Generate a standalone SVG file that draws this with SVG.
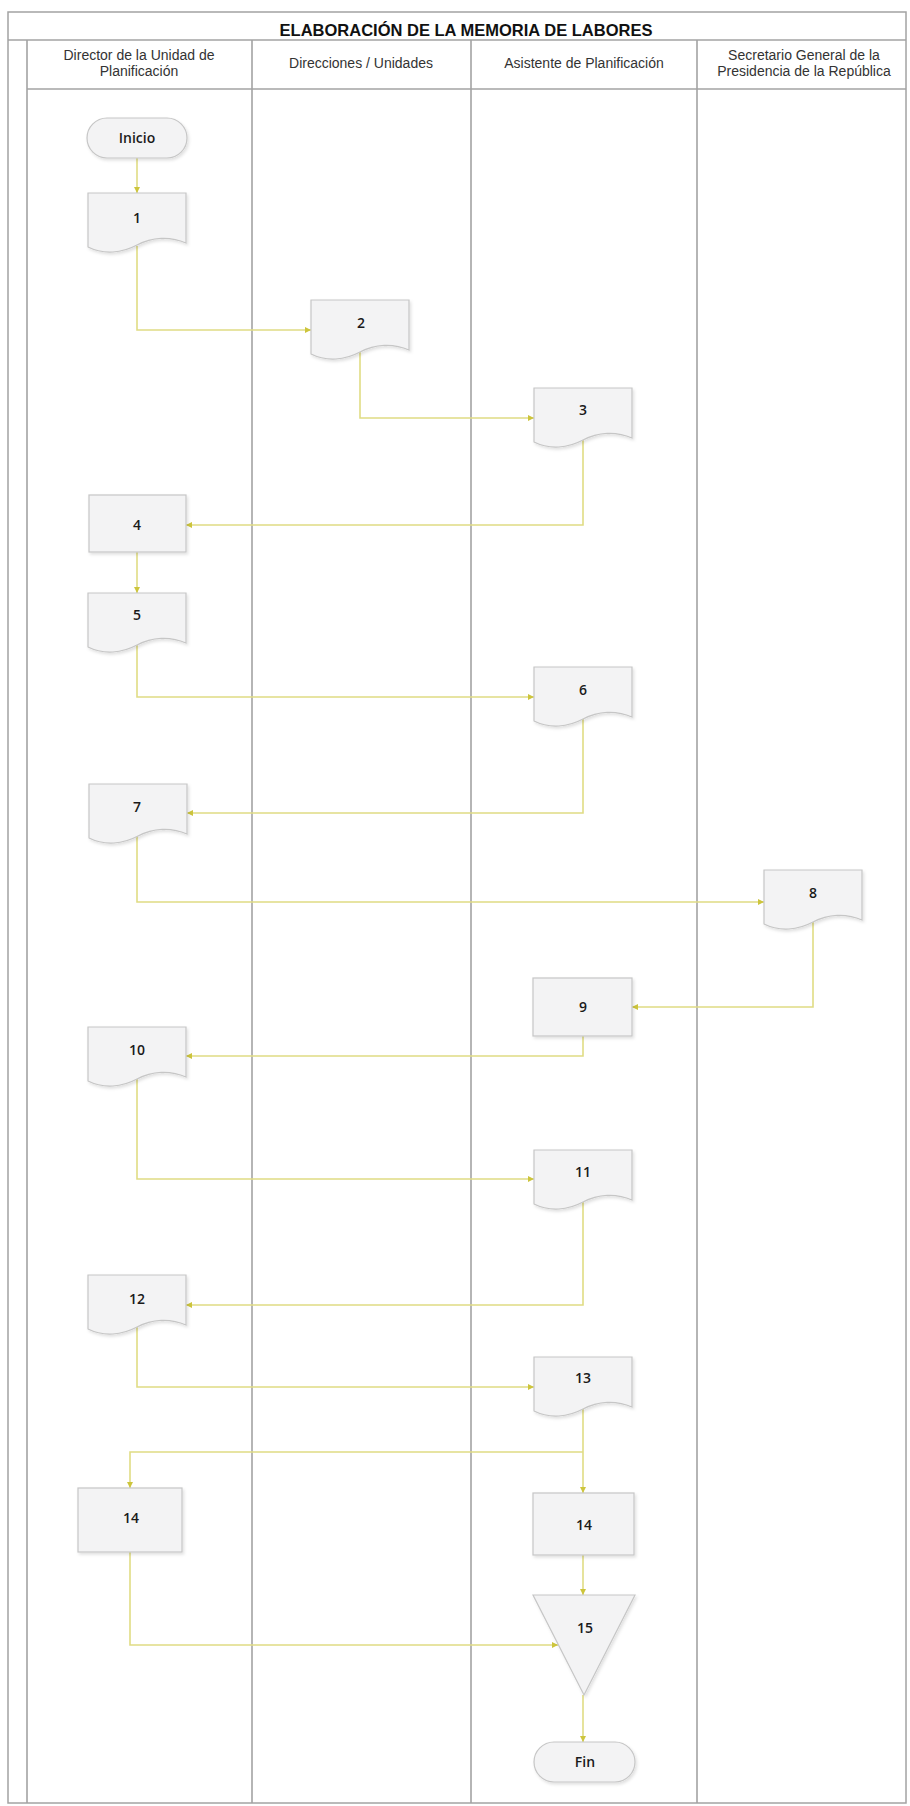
<svg xmlns="http://www.w3.org/2000/svg" xmlns:xlink="http://www.w3.org/1999/xlink" width="910" height="1806" viewBox="0 0 910 1806">
  <defs>
    <style>
      .frame { fill: none; stroke: #a3a3a3; stroke-width: 1.5; }
      .lane { stroke: #a3a3a3; stroke-width: 1.6; fill: none; }
      .title { font-family: "Liberation Sans", Arial, sans-serif; font-weight: bold; font-size: 16.5px; fill: #111; text-anchor: middle; }
      .hdr { font-family: "Liberation Sans", Arial, sans-serif; font-size: 14px; fill: #333; text-anchor: middle; }
      .node { fill: #f3f3f4; stroke: #c6c6c6; stroke-width: 1.2; filter: url(#sh); }
      .lbl { font-family: "Open Sans", "Noto Sans", sans-serif; font-weight: 600; font-size: 14px; fill: #1a1a1a; text-anchor: middle; }
      .conn { fill: none; stroke: #e0dc84; stroke-width: 1.6; marker-end: url(#arr); }
    </style>
    <filter id="sh" x="-10%" y="-10%" width="130%" height="130%">
      <feDropShadow dx="1.5" dy="2" stdDeviation="1.5" flood-color="#000" flood-opacity="0.12"/>
    </filter>
    <marker id="arr" markerWidth="7" markerHeight="7" refX="6" refY="3.5" orient="auto" markerUnits="userSpaceOnUse">
      <path d="M0,0.5 L6,3.5 L0,6.5 Z" fill="#cdc53c"/>
    </marker>
    <path id="doc" d="M0,0 H98 V50 C82,43 64,44 49,52 C34,60 16,62 0,54 Z"/>
  </defs>

  <rect width="910" height="1806" fill="#ffffff"/>

  <g id="frame">
    <rect class="frame" x="8" y="12" width="898" height="1791"/>
    <line class="lane" x1="8" y1="40" x2="906" y2="40"/>
    <line class="lane" x1="27" y1="40" x2="27" y2="1803"/>
    <line class="lane" x1="27" y1="89" x2="906" y2="89"/>
    <line class="lane" x1="252" y1="40" x2="252" y2="1803"/>
    <line class="lane" x1="471" y1="40" x2="471" y2="1803"/>
    <line class="lane" x1="697" y1="40" x2="697" y2="1803"/>
    <text class="title" x="466" y="36">ELABORACIÓN DE LA MEMORIA DE LABORES</text>
    <text class="hdr" x="139" y="60">Director de la Unidad de</text>
    <text class="hdr" x="139" y="76">Planificación</text>
    <text class="hdr" x="361" y="68">Direcciones / Unidades</text>
    <text class="hdr" x="584" y="68">Asistente de Planificación</text>
    <text class="hdr" x="804" y="60">Secretario General de la</text>
    <text class="hdr" x="804" y="76">Presidencia de la República</text>
  </g>

  <g id="connectors">
    <path class="conn" d="M137,158 V193"/>
    <path class="conn" d="M137,246 V330 H311"/>
    <path class="conn" d="M360,352 V418 H534"/>
    <path class="conn" d="M583,440 V525 H186"/>
    <path class="conn" d="M137,552 V593"/>
    <path class="conn" d="M137,645 V697 H534"/>
    <path class="conn" d="M583,719 V813 H187"/>
    <path class="conn" d="M137,836 V902 H764"/>
    <path class="conn" d="M813,922 V1007 H632"/>
    <path class="conn" d="M583,1036 V1056 H186"/>
    <path class="conn" d="M137,1079 V1179 H534"/>
    <path class="conn" d="M583,1202 V1305 H186"/>
    <path class="conn" d="M137,1327 V1387 H534"/>
    <path class="conn" d="M583,1409 V1493"/>
    <path class="conn" d="M583,1452 H130 V1488"/>
    <path class="conn" d="M130,1552 V1645 H558"/>
    <path class="conn" d="M583,1555 V1595"/>
    <path class="conn" d="M583,1695 V1742"/>
  </g>

  <g id="n-inicio">
    <rect class="node" x="87" y="118" width="100" height="40" rx="20"/>
    <text class="lbl" x="137" y="143">Inicio</text>
  </g>
  <g id="n1">
    <use href="#doc" class="node" x="88" y="193"/>
    <text class="lbl" x="137" y="223">1</text>
  </g>
  <g id="n2">
    <use href="#doc" class="node" x="311" y="300"/>
    <text class="lbl" x="361" y="328">2</text>
  </g>
  <g id="n3">
    <use href="#doc" class="node" x="534" y="388"/>
    <text class="lbl" x="583" y="415">3</text>
  </g>
  <g id="n4">
    <rect class="node" x="89" y="495" width="97" height="57"/>
    <text class="lbl" x="137" y="530">4</text>
  </g>
  <g id="n5">
    <use href="#doc" class="node" x="88" y="593"/>
    <text class="lbl" x="137" y="620">5</text>
  </g>
  <g id="n6">
    <use href="#doc" class="node" x="534" y="667"/>
    <text class="lbl" x="583" y="695">6</text>
  </g>
  <g id="n7">
    <use href="#doc" class="node" x="89" y="784"/>
    <text class="lbl" x="137" y="812">7</text>
  </g>
  <g id="n8">
    <use href="#doc" class="node" x="764" y="870"/>
    <text class="lbl" x="813" y="898">8</text>
  </g>
  <g id="n9">
    <rect class="node" x="533" y="978" width="99" height="58"/>
    <text class="lbl" x="583" y="1012">9</text>
  </g>
  <g id="n10">
    <use href="#doc" class="node" x="88" y="1027"/>
    <text class="lbl" x="137" y="1055">10</text>
  </g>
  <g id="n11">
    <use href="#doc" class="node" x="534" y="1150"/>
    <text class="lbl" x="583" y="1177">11</text>
  </g>
  <g id="n12">
    <use href="#doc" class="node" x="88" y="1275"/>
    <text class="lbl" x="137" y="1304">12</text>
  </g>
  <g id="n13">
    <use href="#doc" class="node" x="534" y="1357"/>
    <text class="lbl" x="583" y="1383">13</text>
  </g>
  <g id="n14a">
    <rect class="node" x="78" y="1488" width="104" height="64"/>
    <text class="lbl" x="131" y="1523">14</text>
  </g>
  <g id="n14b">
    <rect class="node" x="533" y="1493" width="101" height="62"/>
    <text class="lbl" x="584" y="1530">14</text>
  </g>
  <g id="n15">
    <polygon class="node" points="533,1595 635,1595 584,1695"/>
    <text class="lbl" x="585" y="1633">15</text>
  </g>
  <g id="n-fin">
    <rect class="node" x="534" y="1742" width="101" height="40" rx="20"/>
    <text class="lbl" x="585" y="1767">Fin</text>
  </g>
</svg>
